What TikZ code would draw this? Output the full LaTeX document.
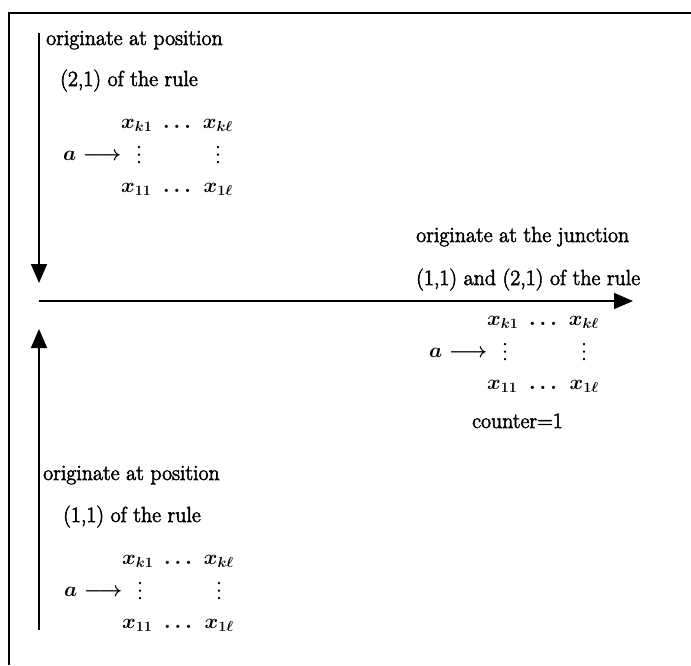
\documentclass[tikz,border=0pt]{standalone}
\usepackage{fontspec}
\newfontfamily\heavy{Latin Modern Roman}[FakeBold=2.5]
\usetikzlibrary{arrows.meta}
\newcommand{\myvdots}{\vbox{\baselineskip=7.5pt\lineskiplimit=0pt\hbox{.}\hbox{.}\hbox{.}}}
% #1 name prefix, #2 x of "a", #3 baseline of first row
\newcommand{\matblock}[3]{%
  \node[mtxt] (#1a) at ({#2},{#3+32}) {$a\longrightarrow$};
  \node[mtxt] (#1xa) at ({#2+58},{#3}) {$x_{k1}$};
  \node[mtxt,anchor=base] (#1da) at ({#2+114},{#3}) {$\ldots$};
  \node[mtxt,anchor=base east] (#1xb) at ({#2+170},{#3}) {$x_{k\ell}$};
  \node[txt,anchor=base] (#1va) at ({#2+76},{#3+35}) {\myvdots};
  \node[txt,anchor=base] (#1vb) at ({#2+155},{#3+35}) {\myvdots};
  \node[mtxt] (#1xc) at ({#2+58},{#3+64}) {$x_{11}$};
  \node[mtxt,anchor=base] (#1dc) at ({#2+114},{#3+64}) {$\ldots$};
  \node[mtxt,anchor=base east] (#1xd) at ({#2+170},{#3+64}) {$x_{1\ell}$};
}
\begin{document}
\begin{tikzpicture}[x=1pt,y=-1pt,
  txt/.style={anchor=base west,inner sep=0pt,font=\fontsize{21.8}{26}\selectfont\heavy},
  mtxt/.style={anchor=base west,inner sep=0pt,font=\fontsize{20.74}{25}\selectfont\boldmath},
  bigarr/.style={line width=1.6pt,-{Triangle[length=19pt,width=16pt]}},
  frameline/.style={line width=1.6pt}]
\useasboundingbox (0,0) rectangle (691,665);
% frame (top and left edges)
\coordinate (fa) at (9,665);
\coordinate (fb) at (9,13);
\coordinate (fc) at (691,13);
\draw[frameline] (fa) -- (fb) -- (fc);
% arrows
\coordinate (t0) at (39,33);
\coordinate (t1) at (39,283);
\coordinate (h0) at (39,301);
\coordinate (h1) at (633,301);
\coordinate (b0) at (39,630);
\coordinate (b1) at (39,329);
\draw[bigarr] (t0) -- (t1);
\draw[bigarr] (h0) -- (h1);
\draw[bigarr] (b0) -- (b1);
% top block
\node[txt] (tl1) at (46,45) {originate at position};
\node[txt] (tl2) at (60,86) {(2,1) of the rule};
\matblock{tm}{63}{128}
% right block
\node[txt] (rl1) at (416,242) {originate at the junction};
\node[txt] (rl2) at (416,285) {(1,1) and (2,1) of the rule};
\matblock{rm}{429}{325}
\node[txt] (rc) at (472,428) {counter=1};
% bottom block
\node[txt] (bl1) at (43,480) {originate at position};
\node[txt] (bl2) at (63,522) {(1,1) of the rule};
\matblock{bm}{64}{564}
\end{tikzpicture}
\end{document}
